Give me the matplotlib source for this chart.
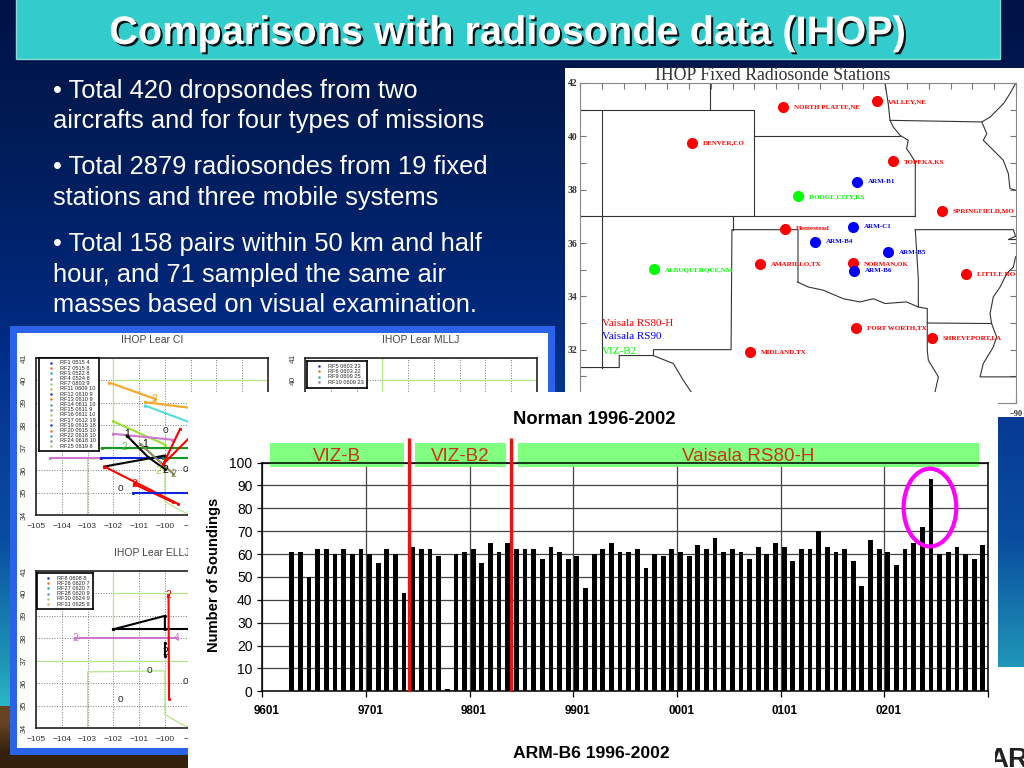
import numpy as np
import matplotlib
matplotlib.use('Agg')
import matplotlib.pyplot as plt
import matplotlib.patheffects as pe
from matplotlib.patches import Rectangle, Ellipse

plt.rcParams['font.family'] = ['Liberation Sans', 'DejaVu Sans']

W, H = 1024, 768

# slide text
title = 'Comparisons with radiosonde data (IHOP)'
bullets = [('\u2022 Total 420 dropsondes from two', 98),
           ('aircrafts and for four types of missions', 128),
           ('\u2022 Total 2879 radiosondes from 19 fixed', 174),
           ('stations and three mobile systems', 205),
           ('\u2022 Total 158 pairs within 50 km and half', 251),
           ('hour, and 71 sampled the same air', 282),
           ('masses based on visual examination.', 312)]

# bar chart data, one value per month 9601..0212
soundings = [0, 0, 0, 61, 61, 50, 62, 62, 60, 62, 60, 62, 60, 56, 62, 60, 43,
             63, 62, 62, 59, 1, 60, 61, 62, 56, 65, 61, 65, 62, 62, 62, 58, 63,
             61, 58, 59, 45, 60, 62, 65, 61, 61, 62, 54, 60, 59, 62, 61, 59, 64,
             62, 67, 61, 62, 61, 58, 63, 60, 65, 63, 57, 62, 62, 70, 63, 61, 62,
             57, 46, 66, 62, 61, 55, 62, 65, 72, 93, 60, 61, 63, 60, 58, 64]
year_labels = ['9601', '9701', '9801', '9901', '0001', '0101', '0201']
bands = [('VIZ-B', 0.9, 16.4), ('VIZ-B2', 17.7, 28.2), ('Vaisala RS80-H', 29.6, 83.0)]
change_months = [17.0, 28.85]

# stations on the map: name, lon, lat
red_stations = [('DENVER,CO', -104.88, 39.75), ('NORTH PLATTE,NE', -100.7, 41.11),
                ('VALLEY,NE', -96.38, 41.31), ('TOPEKA,KS', -95.64, 39.06),
                ('SPRINGFIELD,MO', -93.41, 37.21), ('Homestead', -100.61, 36.54),
                ('AMARILLO,TX', -101.73, 35.21), ('NORMAN,OK', -97.48, 35.24),
                ('LITTLE ROCK', -92.28, 34.83), ('FORT WORTH,TX', -97.32, 32.83),
                ('SHREVEPORT,LA', -93.85, 32.44), ('MIDLAND,TX', -102.2, 31.92)]
blue_stations = [('ARM-B1', -97.3, 38.29), ('ARM-C1', -97.49, 36.6), ('ARM-B4', -99.2, 36.05),
                 ('ARM-B5', -95.86, 35.66), ('ARM-B6', -97.43, 34.96)]
green_stations = [('DODGE CITY,KS', -99.98, 37.75), ('ALBUQUERQUE,NM', -106.62, 35.01)]

# state borders
borders = [
    [(-110, 41), (-102, 41), (-102, 37)],
    [(-104.05, 42), (-104.05, 41)],
    [(-102, 40), (-95.32, 40)],
    [(-110, 37), (-94.62, 37)],
    [(-109, 41), (-109, 31.33)],
    [(-110, 31.33), (-108.2, 31.33), (-108.2, 31.78), (-106.63, 31.78), (-106.63, 32),
     (-103.07, 32), (-103.03, 36.5), (-100, 36.5), (-100, 34.54)],
    [(-103, 36.5), (-103, 37)],
    [(-100.03, 34.54), (-99.53, 34.35), (-98.84, 34.23), (-97.92, 33.91), (-97.16, 33.79),
     (-96.54, 33.91), (-96.01, 33.73), (-95.02, 33.79), (-94.48, 33.6), (-94.07, 33.54),
     (-94.07, 31.98), (-94.02, 31.6), (-93.56, 30.98), (-93.72, 30.39)],
    [(-106.64, 31.78), (-105.72, 31.48), (-105.26, 30.85), (-104.88, 30.39), (-104.5, 30)],
    [(-94.62, 37), (-94.62, 39.04), (-94.86, 39.35), (-95.02, 39.54), (-94.94, 39.85), (-95.32, 40.04),
     (-95.63, 40.35), (-95.78, 40.6), (-95.86, 41.22), (-96.01, 42)],
    [(-95.78, 40.6), (-91.57, 40.54)],
    [(-90.02, 41.98), (-90.28, 41.6), (-90.58, 41.22), (-91.19, 40.72), (-91.57, 40.54), (-91.34, 40.1),
     (-91.5, 39.85), (-91.04, 39.48), (-90.58, 39.1), (-90.35, 38.6), (-90.28, 38.04), (-90.02, 37.98)],
    [(-94.62, 36.5), (-90.12, 36.5), (-90.02, 36.25), (-90.35, 36.13), (-90.02, 36.13)],
    [(-90.02, 35.48), (-90.12, 35.1), (-90.43, 34.85), (-90.73, 34.35), (-91.04, 33.98), (-91.19, 33.35),
     (-91.12, 32.98), (-90.89, 32.48), (-91.04, 32.1), (-91.5, 31.48), (-91.65, 30.98), (-90, 30.98)],
    [(-94.62, 36.5), (-94.48, 34.66), (-94.48, 33.6)],
    [(-94.07, 33), (-91.12, 32.98)],
]
map_legend = [('Vaisala RS80-H', 'red', 33.0), ('Vaisala RS90', 'blue', 32.5), ('VIZ-B2', 'lime', 31.95)]

# flight tracks, small panels
ci_tracks = [
    ('#f5a623', [(-102.15, 39.9), (-100.39, 39.18)]), ('#f5a623', [(-100.77, 39.03), (-98.5, 38.7)]),
    ('#55dddd', [(-100.77, 38.88), (-98.5, 37.9)]), ('#99e033', [(-102, 38.17), (-100, 37.14)]),
    ('#cc77cc', [(-102, 37.62), (-99.74, 37.36)]), ('#119922', [(-102.45, 36.98), (-98.5, 36.98)]),
    ('#cc77cc', [(-104.45, 36.56), (-102.5, 36.56)]), ('#1122dd', [(-102.47, 36.56), (-100.06, 36.56)]),
    ('#119922', [(-100.06, 36.56), (-98.5, 36.56)]), ('black', [(-102.35, 36.16), (-100, 36.65)]),
    ('black', [(-101.48, 37.54), (-100.64, 36.57), (-100, 36.05)]), ('#888855', [(-100.96, 37.17), (-99.67, 35.83)]),
    ('red', [(-102.35, 36.16), (-99.48, 34.49)]), ('red', [(-101.2, 35.38), (-99.67, 34.56)]),
    ('#1122dd', [(-101.25, 34.99), (-98.5, 34.99)]), ('red', [(-100.06, 36.28), (-99.41, 37.84)]),
    ('red', [(-100.06, 36.28), (-99.0, 37.5)]),
]
ell_tracks = [
    ('black', [(-102, 38.4), (-100, 39), (-100, 38.4)]), ('black', [(-102, 38.4), (-98.5, 38.4)]),
    ('#cc77cc', [(-103.48, 38), (-99.54, 38)]), ('red', [(-99.86, 39.93), (-99.84, 35.3)]),
    ('black', [(-100, 37.8), (-100, 37.2)]),
]
ci_sondes = [(-99.97, 37.77), (-99.22, 36.05), (-101.74, 35.2)]
ell_sondes = [(-100.6, 36.6), (-99.2, 36.1), (-101.74, 35.3)]
ci_marks = [('2', -100.39, 39.18, '#f5a623'), ('2', -101.56, 37.05, '#66bb55'), ('2', -100.25, 35.95, '#99e033'),
            ('2', -99.67, 35.83, '#888855'), ('2', -100, 36.0, 'black'), ('1', -101.48, 37.6, 'black'),
            ('1', -100.75, 37.15, 'black'), ('2', -101.2, 35.38, 'red')]
ell_marks = [('2', -103.48, 38, '#cc77cc'), ('4', -99.54, 38, '#cc77cc'), ('2', -99.86, 39.93, 'red'),
             ('2', -100, 37.4, 'black')]
panel_borders = [
    [(-102, 41), (-102, 37)], [(-102, 40), (-96, 40)], [(-105, 37), (-96, 37)],
    [(-103, 34), (-103, 36.5), (-100, 36.55), (-100, 34.6), (-99.4, 34.2), (-99, 34)],
]
ci_legend = ['RF1 0515 4', 'RF2 0515 8', 'RF3 0522 8', 'RF4 0524 8', 'RF7 0803 9', 'RF11 0609 10',
             'RF12 0610 9', 'RF13 0610 9', 'RF14 0611 10', 'RF15 0611 9', 'RF16 0611 10', 'RF17 0612 19',
             'RF19 0615 18', 'RF20 0615 10', 'RF22 0618 10', 'RF24 0618 10', 'RF25 0619 8']
ell_legend = ['RF8 0608 8', 'RF26 0620 7', 'RF27 0620 7', 'RF28 0620 9', 'RF30 0624 9', 'RF31 0625 9']
mllj_legend = ['RF5 0603 23', 'RF6 0603 22', 'RF9 0609 25', 'RF10 0609 23']
legend_colors = ['#1122dd', '#ee6622', '#22aaaa', '#778899', '#99cc66', '#ddaa66']


def px_axes(x0, y0, w, h, z):
    # axes placed by pixel box, y0 is the top edge
    return fig.add_axes([x0 / W, 1 - (y0 + h) / H, w / W, h / H], zorder=z)


def layer(z):
    # transparent full figure axes in pixel coordinates
    ax = fig.add_axes([0, 0, 1, 1], zorder=z)
    ax.set_xlim(0, W)
    ax.set_ylim(H, 0)
    ax.axis('off')
    ax.patch.set_alpha(0)
    return ax


def small_panel(x0, y0, name, tracks, sondes, marks, xshow, yshow, z=3):
    ax = px_axes(x0, y0, 232, 157, z)
    ax.set_xlim(-105, -96)
    ax.set_ylim(34, 41)
    ax.grid(True, color='#777777', ls=':', lw=0.7)
    ax.set_xticks(range(-105, -95))
    ax.set_xticklabels(['\u2212%d' % -v if v <= xshow else '' for v in range(-105, -95)],
                       fontsize=6, color='#333333')
    ax.set_yticks(range(34, 42))
    ax.set_yticklabels([str(v) if v >= yshow else '' for v in range(34, 42)], fontsize=6, rotation=90,
                       va='center', color='#333333')
    ax.tick_params(length=0)
    ax.tick_params(axis='x', pad=6)
    ax.tick_params(axis='y', pad=6)
    for s in ax.spines.values():
        s.set_linewidth(1.2)
        s.set_color('#222222')
    for b in panel_borders:
        ax.plot(*zip(*b), color='#b5e58a', lw=0.9)
    for col, pts in tracks:
        ax.plot(*zip(*pts), color=col, lw=1.5, marker='.', ms=2.5)
    for lon, lat in sondes:
        ax.text(lon, lat, 'o', fontsize=7.5, ha='center', va='center', color='#333333')
    for mark, lon, lat, col in marks:
        ax.text(lon, lat, mark, fontsize=7.5, ha='center', va='center', color=col)
    ax.set_title(name, fontsize=7.5, color='#444444', pad=11)
    return ax


def small_legend(x0, y0, w, names, step, z=4):
    ax = px_axes(x0, y0, w, step * len(names) + 5, z)
    ax.set_xlim(0, w)
    ax.set_ylim(step * len(names) + 5, 0)
    ax.set_xticks([])
    ax.set_yticks([])
    for s in ax.spines.values():
        s.set_linewidth(1.2)
    for i, name in enumerate(names):
        y = 5 + i * step
        ax.plot(w * 0.2, y, '.', ms=1.5, color=legend_colors[i % len(legend_colors)])
        ax.text(w * 0.35, y, name, fontsize=4.1, va='center', color='#222222')


fig = plt.figure(figsize=(W / 100, H / 100), dpi=100)

# slide background
bg = layer(0)
stops_y = [0, 100, 230, 330, 420, 540, 667, 706]
stops_r = [0, 0, 0, 0, 6, 10, 32, 44]
stops_g = [18, 26, 34, 42, 58, 78, 152, 184]
stops_b = [72, 80, 106, 128, 149, 160, 184, 200]
ys = np.arange(706)
grad = np.stack([np.interp(ys, stops_y, c) for c in (stops_r, stops_g, stops_b)], axis=1) / 255
bg.imshow(grad[:, None, :], extent=(0, W, 706, 0), aspect='auto', zorder=0)
bg.imshow(np.array([[[0.40, 0.27, 0.14]], [[0.20, 0.13, 0.05]]]), extent=(0, W, H, 706),
          aspect='auto', zorder=0, interpolation='bilinear')
bg.set_xlim(0, W)
bg.set_ylim(H, 0)
bg.add_patch(Rectangle((16, -2), 984, 61, fc='#33cccc', ec='#8fd8d8', lw=1, zorder=1))
bg.text(508, 44, title, fontsize=28.6, fontweight='bold', color='white', ha='center', va='baseline', zorder=3,
        path_effects=[pe.withSimplePatchShadow(offset=(1.5, -1.5), shadow_rgbFace='black', alpha=0.9)])
for line, y in bullets:
    bg.text(53, y, line, fontsize=18.4, color='white', va='baseline', zorder=3)

# station map
back = layer(1)
back.add_patch(Rectangle((565, 68), 459, 349, fc='white', ec='none'))
back.text(773, 80, 'IHOP Fixed Radiosonde Stations', family='Liberation Serif', fontsize=12.8,
          ha='center', va='baseline', color='#333333')
back.text(1016, 416, '\u221290', fontsize=6, family='Liberation Serif', fontweight='bold', ha='center', color='#333333')
m = px_axes(580, 83, 436, 320, 2)
m.set_xlim(-110, -90)
m.set_ylim(30, 42)
m.set_xticks(range(-110, -89), labels=[])
m.set_yticks(range(30, 43))
m.set_yticklabels([str(v) if v % 2 == 0 and v > 30 else '' for v in range(30, 43)], fontsize=7,
                  family='Liberation Serif', fontweight='bold', color='#333333')
m.tick_params(direction='in', length=4, width=0.8, color='#777777', top=True, right=True, pad=2)
for s in m.spines.values():
    s.set_color('#888888')
for b in borders:
    m.plot(*zip(*b), color='#333333', lw=0.8)
for names, col in ((red_stations, 'red'), (blue_stations, 'blue'), (green_stations, 'lime')):
    for name, lon, lat in names:
        m.plot(lon, lat, 'o', ms=8, color=col, mec='none', zorder=4)
        m.text(lon + 0.5, lat, name, fontsize=5, color=col, va='center', family='Liberation Serif',
               fontweight='bold', clip_on=True, zorder=4)
for name, col, lat in map_legend:
    m.text(-109, lat, name, fontsize=8, color=col, va='center', family='Liberation Serif')

# panel with the flight tracks
frame = layer(3)
frame.add_patch(Rectangle((10, 326), 545, 429, fc='#2a62e8', ec='none'))
frame.add_patch(Rectangle((17, 333), 531, 415, fc='white', ec='none'))
small_panel(36, 358, 'IHOP Lear CI', ci_tracks, ci_sondes, ci_marks, -99, 34, z=4)
small_panel(305, 358, 'IHOP Lear MLLJ', [], [], [], -200, 40, z=4)
small_panel(36, 571, 'IHOP Lear ELLJ', ell_tracks, ell_sondes, ell_marks, -99, 34, z=4)
small_legend(39, 358, 60, ci_legend, 5.2, z=5)
small_legend(37, 573, 56, ell_legend, 5.2, z=5)
small_legend(307, 361, 60, mllj_legend, 5.4, z=5)

# white sheet under the bar chart
sheet = layer(6)
sheet.add_patch(Rectangle((188, 392), 810, 376, fc='white', ec='none'))
sheet.add_patch(Rectangle((998, 667), 26, 101, fc='white', ec='none'))

# bar chart
ax = px_axes(262.3, 462.5, 725.5, 228.8, 7)
months = np.arange(len(soundings))
ax.set_xlim(0, 84)
ax.set_ylim(0, 100)
ax.set_axisbelow(True)
ax.bar(months + 0.42, soundings, width=0.55, color='black', zorder=3)
ax.set_xticks(np.arange(0, 85, 12), labels=[])
for i, lab in enumerate(year_labels):
    ax.annotate(lab, (i * 12, 0), xytext=(3, -14), textcoords='offset points', fontsize=8.4,
                fontweight='bold', ha='center', va='center', annotation_clip=False)
ax.set_yticks(range(0, 101, 10))
ax.tick_params(axis='y', labelsize=10, length=3.5, width=0.9, pad=3.5)
ax.tick_params(axis='x', length=4, width=0.9)
ax.grid(True, color='#444444', lw=0.9)
for s in ax.spines.values():
    s.set_linewidth(1.1)
ax.set_ylabel('Number of Soundings', fontsize=10.6, fontweight='bold', labelpad=6, y=0.51)
ax.text(0.457, 1.186, 'Norman 1996-2002', transform=ax.transAxes, fontsize=13.2, fontweight='bold', ha='center', va='center')
ax.text(0.454, -0.27, 'ARM-B6 1996-2002', transform=ax.transAxes, fontsize=12.6, fontweight='bold', ha='center', va='center')
for name, start, stop in bands:
    ax.add_patch(Rectangle((start, 98), stop - start, 10.5, fc='#80ff80', ec='none', clip_on=False, zorder=1.5))
    ax.text((start + stop) / 2, 102.7, name, fontsize=13.5, color='#cc3311', ha='center', va='center', zorder=2)
for xm in change_months:
    ax.plot([xm, xm], [0, 110.5], color='#ee1111', lw=2.4, clip_on=False, zorder=5, solid_capstyle='butt')
ax.add_patch(Ellipse((77.3, 80.3), 6.1, 34, fc='none', ec='#ff00ff', lw=3, clip_on=False, zorder=6))

# corner of the logo
logo = px_axes(995, 745, 29, 23, 8)
logo.set_xlim(0, 29)
logo.set_ylim(23, 0)
logo.axis('off')
logo.text(-7, 22, 'AR', fontsize=20, fontweight='bold', color='#222222', va='baseline', clip_on=True)

fig.savefig('out.png', dpi=100)
